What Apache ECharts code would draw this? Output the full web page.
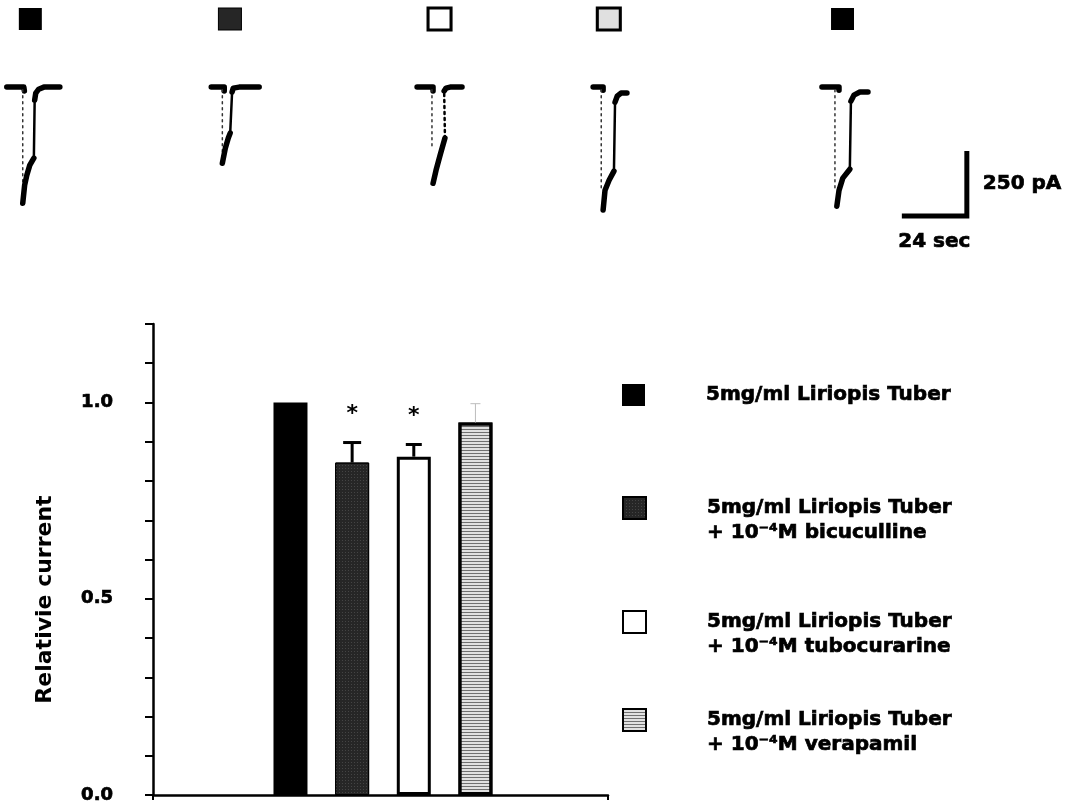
<!DOCTYPE html>
<html>
<head>
<meta charset="utf-8">
<script src="https://cdn.jsdelivr.net/npm/echarts@6/dist/echarts.min.js"></script>
<style>
html,body{margin:0;padding:0;background:#fff;}
#chart{width:1073px;height:805px;}
</style>
</head>
<body>
<div id="chart"></div>
<script>
// ---------- DATA ----------
const categories = [
  '5mg/ml Liriopis Tuber',
  '5mg/ml Liriopis Tuber\n+ 10\u207B\u2074M bicuculline',
  '5mg/ml Liriopis Tuber\n+ 10\u207B\u2074M tubocurarine',
  '5mg/ml Liriopis Tuber\n+ 10\u207B\u2074M verapamil'
];
const relCurrent = [1.0, 0.847, 0.862, 0.949];
const semError   = [0, 0.051, 0.031, 0.048];
const significant = [false, true, true, false];
const yTickLabels = ['0.0', '0.5', '1.0'];

// representative current traces (time in sec from trace start, current in pA)
const traceOffsets = [2.5, 78, 154, 219, 303.5];
const traceCondition = [0, 1, 2, 3, 0];
const traceBase = [
  [[0,0],[6.3,0],[6.5,-15]],
  [[0,0],[4.8,0],[4.8,-15]],
  [[0,0],[5.9,0],[5.9,-15]],
  [[0,0],[3.7,0],[3.7,-12]],
  [[0,0],[6.3,0],[6.3,-12]]
];
const traceDrop = [
  [[5.9,-10],[5.9,-440]],
  [[4.1,-10],[4.1,-290]],
  [[5.5,-10],[5.5,-240]],
  [[3.0,-10],[3.0,-390]],
  [[4.8,-10],[4.8,-400]]
];
const traceRise = [
  [[5.9,-447],[6.6,-377],[7.4,-339],[8.5,-300],[10.0,-273]],
  [[4.1,-293],[5.2,-235],[6.3,-196],[7.0,-177]],
  [[5.9,-370],[7.0,-320],[8.5,-262],[10.3,-196]],
  [[3.7,-473],[4.4,-397],[5.9,-358],[7.7,-323]],
  [[5.5,-458],[6.3,-397],[7.7,-350],[10.3,-316]]
];
const traceMid = [
  [[10.0,-273],[10.3,-50]],
  [[7.0,-177],[7.7,-19]],
  [[10.3,-196],[10.0,-15]],
  [[7.7,-323],[8.1,-58]],
  [[10.3,-316],[10.7,-54]]
];
const traceMidDotted = [false, false, true, false, false];
const traceReturn = [
  [[10.3,-50],[10.7,-23],[11.8,-8],[13.7,0],[19.6,0]],
  [[7.7,-19],[8.1,-4],[10.3,0],[17.7,0]],
  [[10.0,-15],[10.7,-4],[12.2,0],[16.6,0]],
  [[8.1,-58],[8.9,-35],[10.3,-23],[12.5,-23]],
  [[10.7,-54],[11.8,-31],[14.0,-19],[17.0,-19]]
];
const scaleBarTime = 24;      // sec
const scaleBarCurrent = 250;  // pA
const scaleBarCorner = [357, -496];
const markerLevel = 262;      // pA level of the condition squares above traces

// ---------- STYLES ----------
const FONT = 'DejaVu Sans';
const HEAVY = {textBorderColor:'#000', textBorderWidth:0.7};
const condStyles = [
  {color:'#000000', borderColor:'#000', borderWidth:0, opacity:1},
  {color:'#262626', borderColor:'#000', borderWidth:1, opacity:1,
    decal:{symbol:'rect', symbolSize:1, color:'rgba(255,255,255,0.14)', dashArrayX:[1,2], dashArrayY:[1,2]}},
  {color:'#ffffff', borderColor:'#000', borderWidth:3, opacity:1},
  {color:'#e0e0e0', borderColor:'#000', borderWidth:3, opacity:1,
    decal:{symbol:'rect', symbolSize:1, color:'rgba(0,0,0,0.5)', dashArrayX:[1,0], dashArrayY:[1,2]}}
];
const errColor = ['#000', '#000', '#000', '#bdbdbd'];
const errWidth = [0, 3, 3, 1];
const errCap = [0, 9, 8, 5];

// ---------- SERIES ----------
const series = [];
categories.forEach((name, i) => {
  series.push({
    type:'bar', name:name, xAxisIndex:0, yAxisIndex:0,
    barWidth:34, barGap:'-100%',
    itemStyle: condStyles[i],
    data:[[i, relCurrent[i]]],
    z:2
  });
});
series.push({
  type:'custom', xAxisIndex:0, yAxisIndex:0, z:5,
  data: relCurrent.map((v,i)=>[i, v, semError[i], significant[i]?1:0]),
  renderItem:(params, api) => {
    const i = api.value(0), v = api.value(1), e = api.value(2), s = api.value(3);
    const children = [];
    const p0 = api.coord([i, v]);
    const p1 = api.coord([i, v + e]);
    if (e > 0) {
      children.push({type:'line', shape:{x1:p0[0], y1:p0[1], x2:p1[0], y2:p1[1]},
        style:{stroke:errColor[i], lineWidth:errWidth[i]}});
      children.push({type:'line', shape:{x1:p1[0]-errCap[i], y1:p1[1], x2:p1[0]+errCap[i], y2:p1[1]},
        style:{stroke:errColor[i], lineWidth:errWidth[i]}});
    }
    if (s) {
      children.push({type:'text', x:p1[0], y:p1[1]-28,
        style:{text:'*', fill:'#000', font:'bold 22px "DejaVu Sans"', textAlign:'center', textVerticalAlign:'middle'}});
    }
    return {type:'group', children};
  }
});
const shift = (arr, k) => arr.map(p => [p[0] + traceOffsets[k], p[1]]);
const traceLine = (data, width, dotted, color) => ({
  type:'line', xAxisIndex:1, yAxisIndex:1, data, symbol:'none', silent:true,
  lineStyle:{color: color || '#000', width, type: dotted ? [2,4] : 'solid', cap:'round', join:'round'},
  z:3
});
traceOffsets.forEach((off, k) => {
  series.push(traceLine(shift(traceBase[k], k), 5.5, false));
  series.push(traceLine(shift(traceDrop[k], k), 1.5, true, '#333'));
  series.push(traceLine(shift(traceRise[k], k), 5.5, false));
  series.push(traceLine(shift(traceMid[k], k), 2.5, traceMidDotted[k]));
  series.push(traceLine(shift(traceReturn[k], k), 5.5, false));
  const c = traceCondition[k];
  series.push({
    type:'scatter', xAxisIndex:1, yAxisIndex:1, silent:true,
    symbol:'rect', symbolSize:[23,22],
    itemStyle: condStyles[c],
    data:[[off + traceDrop[k][0][0] + 2.8, markerLevel]]
  });
});
const [cx, cy] = scaleBarCorner;
series.push({
  type:'line', xAxisIndex:1, yAxisIndex:1, symbol:'none', silent:true,
  data:[[cx - scaleBarTime, cy],[cx, cy],[cx, cy + scaleBarCurrent]],
  lineStyle:{color:'#000', width:5, cap:'butt', join:'miter'}
});
const sbLabel = Object.assign({show:true, color:'#000', fontFamily:FONT, fontWeight:'bold', fontSize:20}, HEAVY);
series.push({
  type:'scatter', xAxisIndex:1, yAxisIndex:1, silent:true, symbolSize:0,
  itemStyle:{opacity:1},
  data:[
    {value:[cx, cy + scaleBarCurrent/2], label:Object.assign({}, sbLabel, {position:'right', distance:16, formatter: scaleBarCurrent + ' pA'})},
    {value:[cx - scaleBarTime/2, cy], label:Object.assign({}, sbLabel, {position:'bottom', distance:16, formatter: scaleBarTime + ' sec'})}
  ]
});

// legends (one per condition, irregular spacing); icon aligned with first text line
const legendIconCenters = [395, 508, 622, 720];
const LH = 25;
const legends = categories.map((name, i) => {
  const multi = name.indexOf('\n') >= 0;
  const block = multi ? LH * 3 : LH;
  return {
    data:[name], orient:'vertical', left:622, top: legendIconCenters[i] - block/2,
    padding:0, icon:'rect', itemWidth:23, itemHeight:22, selectedMode:false,
    formatter: n => (n.indexOf('\n') >= 0 ? '\n' + n : n),
    textStyle:Object.assign({fontFamily:FONT, fontWeight:'bold', fontSize:20, lineHeight:LH, color:'#000',
      padding:[0, 0, 0, 56]}, HEAVY)
  };
});

const option = {
  animation:false,
  backgroundColor:'#fff',
  grid:[
    {left:153, right:465, top:324, height:471},
    {left:0, top:0, width:1073, height:260}
  ],
  xAxis:[
    {gridIndex:0, type:'value', min:-2.23, max:5.15, interval:7.38,
      axisLine:{show:true, onZero:false, lineStyle:{color:'#000', width:2.5}},
      axisTick:{show:true, inside:false, length:5, lineStyle:{color:'#000', width:2}},
      axisLabel:{show:false}, splitLine:{show:false}},
    {gridIndex:1, type:'value', min:0, max:396.2, show:false}
  ],
  yAxis:[
    {gridIndex:0, type:'value', min:0, max:1.2, interval:0.1,
      name:'Relativie current', nameLocation:'middle', nameGap:97, nameRotate:90,
      nameTextStyle:{fontFamily:FONT, fontWeight:'bold', fontSize:22, color:'#000', padding:[0,80,0,0]},
      axisLine:{show:true, onZero:false, lineStyle:{color:'#000', width:2.5}},
      axisTick:{show:true, length:8, lineStyle:{color:'#000', width:2}},
      axisLabel:Object.assign({margin:40, fontFamily:FONT, fontWeight:'bold', fontSize:18, color:'#000',
        formatter: v => { const s = v.toFixed(1); return yTickLabels.includes(s) ? s : ''; }}, HEAVY),
      splitLine:{show:false}},
    {gridIndex:1, type:'value', min:-665, max:335, show:false}
  ],
  legend: legends,
  series
};
const chart = echarts.init(document.getElementById('chart'), null, {renderer:'canvas'});
chart.setOption(option);
</script>
</body>
</html>
